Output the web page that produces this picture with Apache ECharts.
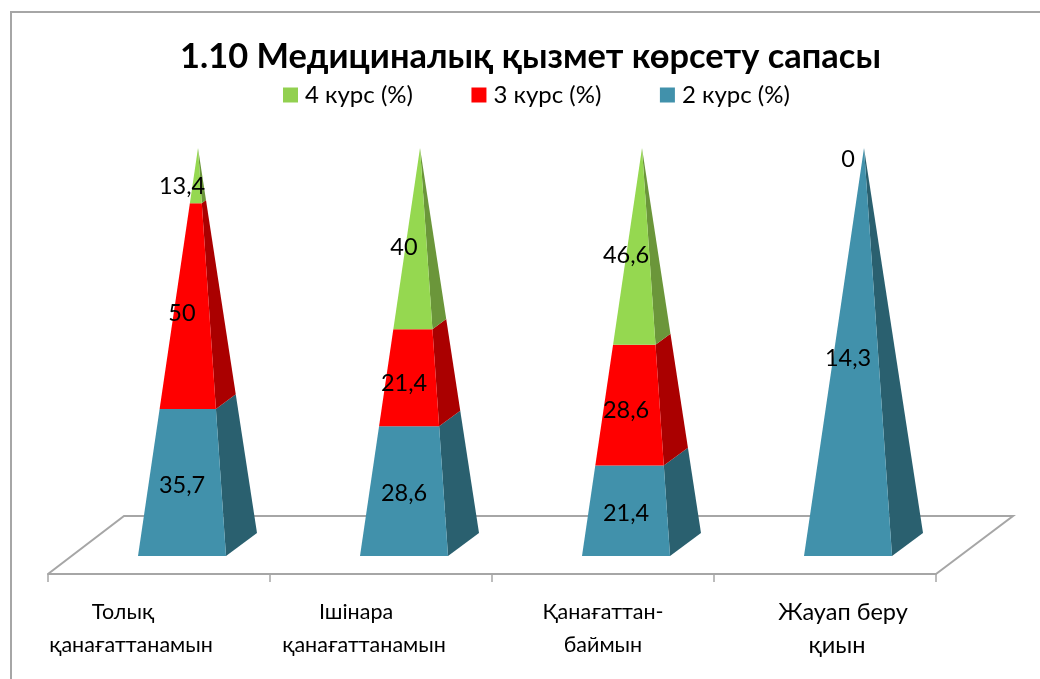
<!DOCTYPE html>
<html>
<head>
<meta charset="utf-8">
<style>html,body{margin:0;padding:0;background:#fff}#c{width:1040px;height:679px}</style>
<script src="https://cdn.jsdelivr.net/npm/echarts@6/dist/echarts.min.js"></script>
</head>
<body>
<div id="c"></div>
<script>
var titleText = '1.10 Медициналық қызмет көрсету сапасы';
var categoryLines = [
  ['Толық', 'қанағаттанамын'],
  ['Ішінара', 'қанағаттанамын'],
  ['Қанағаттан-', 'баймын'],
  ['Жауап беру', 'қиын']
];
var categories = categoryLines.map(function (l) { return l.join(' '); });
var course2 = [35.7, 28.6, 21.4, 14.3];
var course3 = [50, 21.4, 28.6, null];
var course4 = [13.4, 40, 46.6, 0];
var seriesNames = ['2 курс (%)', '3 курс (%)', '4 курс (%)'];
var legendOrder = ['4 курс (%)', '3 курс (%)', '2 курс (%)'];
var fronts = ['#4191AB', '#FF0000', '#95D850'];
var sides = ['#2A606F', '#AA0000', '#6B963A'];
var FONT = "Lato, 'Open Sans', sans-serif";

var allSeries = [course2, course3, course4];

function segs(si) {
  return categories.map(function (_, c) {
    var total = 0, below = 0;
    allSeries.forEach(function (s, k) {
      var v = s[c] || 0;
      total += v;
      if (k < si) below += v;
    });
    var raw = allSeries[si][c];
    if (raw === null) return [c, 0, 0, null];
    return [c, below / total * 100, (below + raw) / total * 100, raw];
  });
}

// Pyramid geometry relative to the category centre, in pixels
var FL = -21, FR = 67, BRX = 98, BRY = -23, APEX = 39, LBL = 23;

function pyramidItem(front, side) {
  return function (params, api) {
    var c = api.value(0), lo = api.value(1), hi = api.value(2), raw = api.value(3);
    var base = api.coord([c, 0]), top = api.coord([c, 100]);
    var cx = base[0], h = base[1] - top[1];
    var ax = cx + APEX, ay = top[1];
    function fl(t) { return [cx + FL + (ax - cx - FL) * t, base[1] - h * t]; }
    function fr(t) { return [cx + FR + (ax - cx - FR) * t, base[1] - h * t]; }
    function br(t) { return [cx + BRX + (ax - cx - BRX) * t, base[1] + BRY + (ay - base[1] - BRY) * t]; }
    var a = lo / 100, b = hi / 100;
    var children = [];
    if (hi > lo) {
      children.push({ type: 'polygon', shape: { points: [fr(a), br(a), br(b), fr(b)] }, style: { fill: side } });
      children.push({ type: 'polygon', shape: { points: [fl(a), fr(a), fr(b), fl(b)] }, style: { fill: front } });
    }
    if (!isNaN(raw) && raw !== null) {
      var mid = api.coord([c, (lo + hi) / 2])[1];
      var y = mid + 1 + 0.026 * (base[1] - mid);
      if (hi <= lo) y = top[1] + 11;
      children.push({
        type: 'text', z2: 50,
        style: {
          text: String(raw).replace('.', ','), x: cx + LBL, y: y, align: 'center', verticalAlign: 'middle',
          fill: '#000', font: '23.5px ' + FONT
        }
      });
    }
    return { type: 'group', children: children };
  };
}

var labelShift = [[72, 56], [50, 34], [0, 0], [-36, -24]];
var rich = {};
labelShift.forEach(function (pair, c) {
  pair.forEach(function (s, l) {
    rich['c' + c + 'l' + l] = {
      fontFamily: FONT, fontSize: c === 3 ? 23.5 : 21.5, color: '#000', lineHeight: 33,
      padding: s >= 0 ? [0, s, 0, 0] : [0, 0, 0, -s]
    };
  });
});

var chart = echarts.init(document.getElementById('c'), null, { renderer: 'canvas' });
chart.setOption({
  animation: false,
  backgroundColor: '#fff',
  title: {
    text: titleText, left: 525.5, top: 35, textAlign: 'center',
    textStyle: { fontFamily: FONT, fontWeight: 'bold', fontSize: 34.4, color: '#000' }
  },
  legend: {
    data: legendOrder, left: 278, top: 78, itemWidth: 15, itemHeight: 15, itemGap: 58.5,
    icon: 'rect',
    textStyle: { fontFamily: FONT, fontSize: 24, color: '#000', padding: [0, 0, 0, 2] }
  },
  grid: { left: 48, right: 104, top: 148, bottom: 105 },
  xAxis: {
    type: 'category', data: categories,
    axisLine: { show: true, onZero: false, lineStyle: { color: '#A6A6A6', width: 2 } },
    axisTick: { show: true, length: 8, lineStyle: { color: '#A6A6A6', width: 1.5 } },
    axisLabel: {
      interval: 0, margin: 22,
      formatter: function (v, i) {
        return categoryLines[i].map(function (t, l) { return '{c' + i + 'l' + l + '|' + t + '}'; }).join('\n');
      },
      rich: rich
    }
  },
  yAxis: { type: 'value', min: -4.41, max: 100, show: false },
  graphic: [
    { type: 'polyline', z: 0, shape: { points: [[11, 679], [11, 12], [1040, 12]] }, style: { stroke: '#A6A6A6', lineWidth: 2, fill: null } },
    { type: 'polyline', z: 0, shape: { points: [[48, 574], [124, 516], [1013, 516], [936, 574]] }, style: { stroke: '#A6A6A6', lineWidth: 2, fill: null } }
  ],
  series: seriesNames.map(function (n, i) {
    return {
      name: n, type: 'custom', z: 5 + i,
      itemStyle: { color: i === 2 ? '#92D050' : fronts[i] },
      encode: { x: 0, y: 2 },
      renderItem: pyramidItem(fronts[i], sides[i]),
      data: segs(i)
    };
  })
});
</script>
</body>
</html>
